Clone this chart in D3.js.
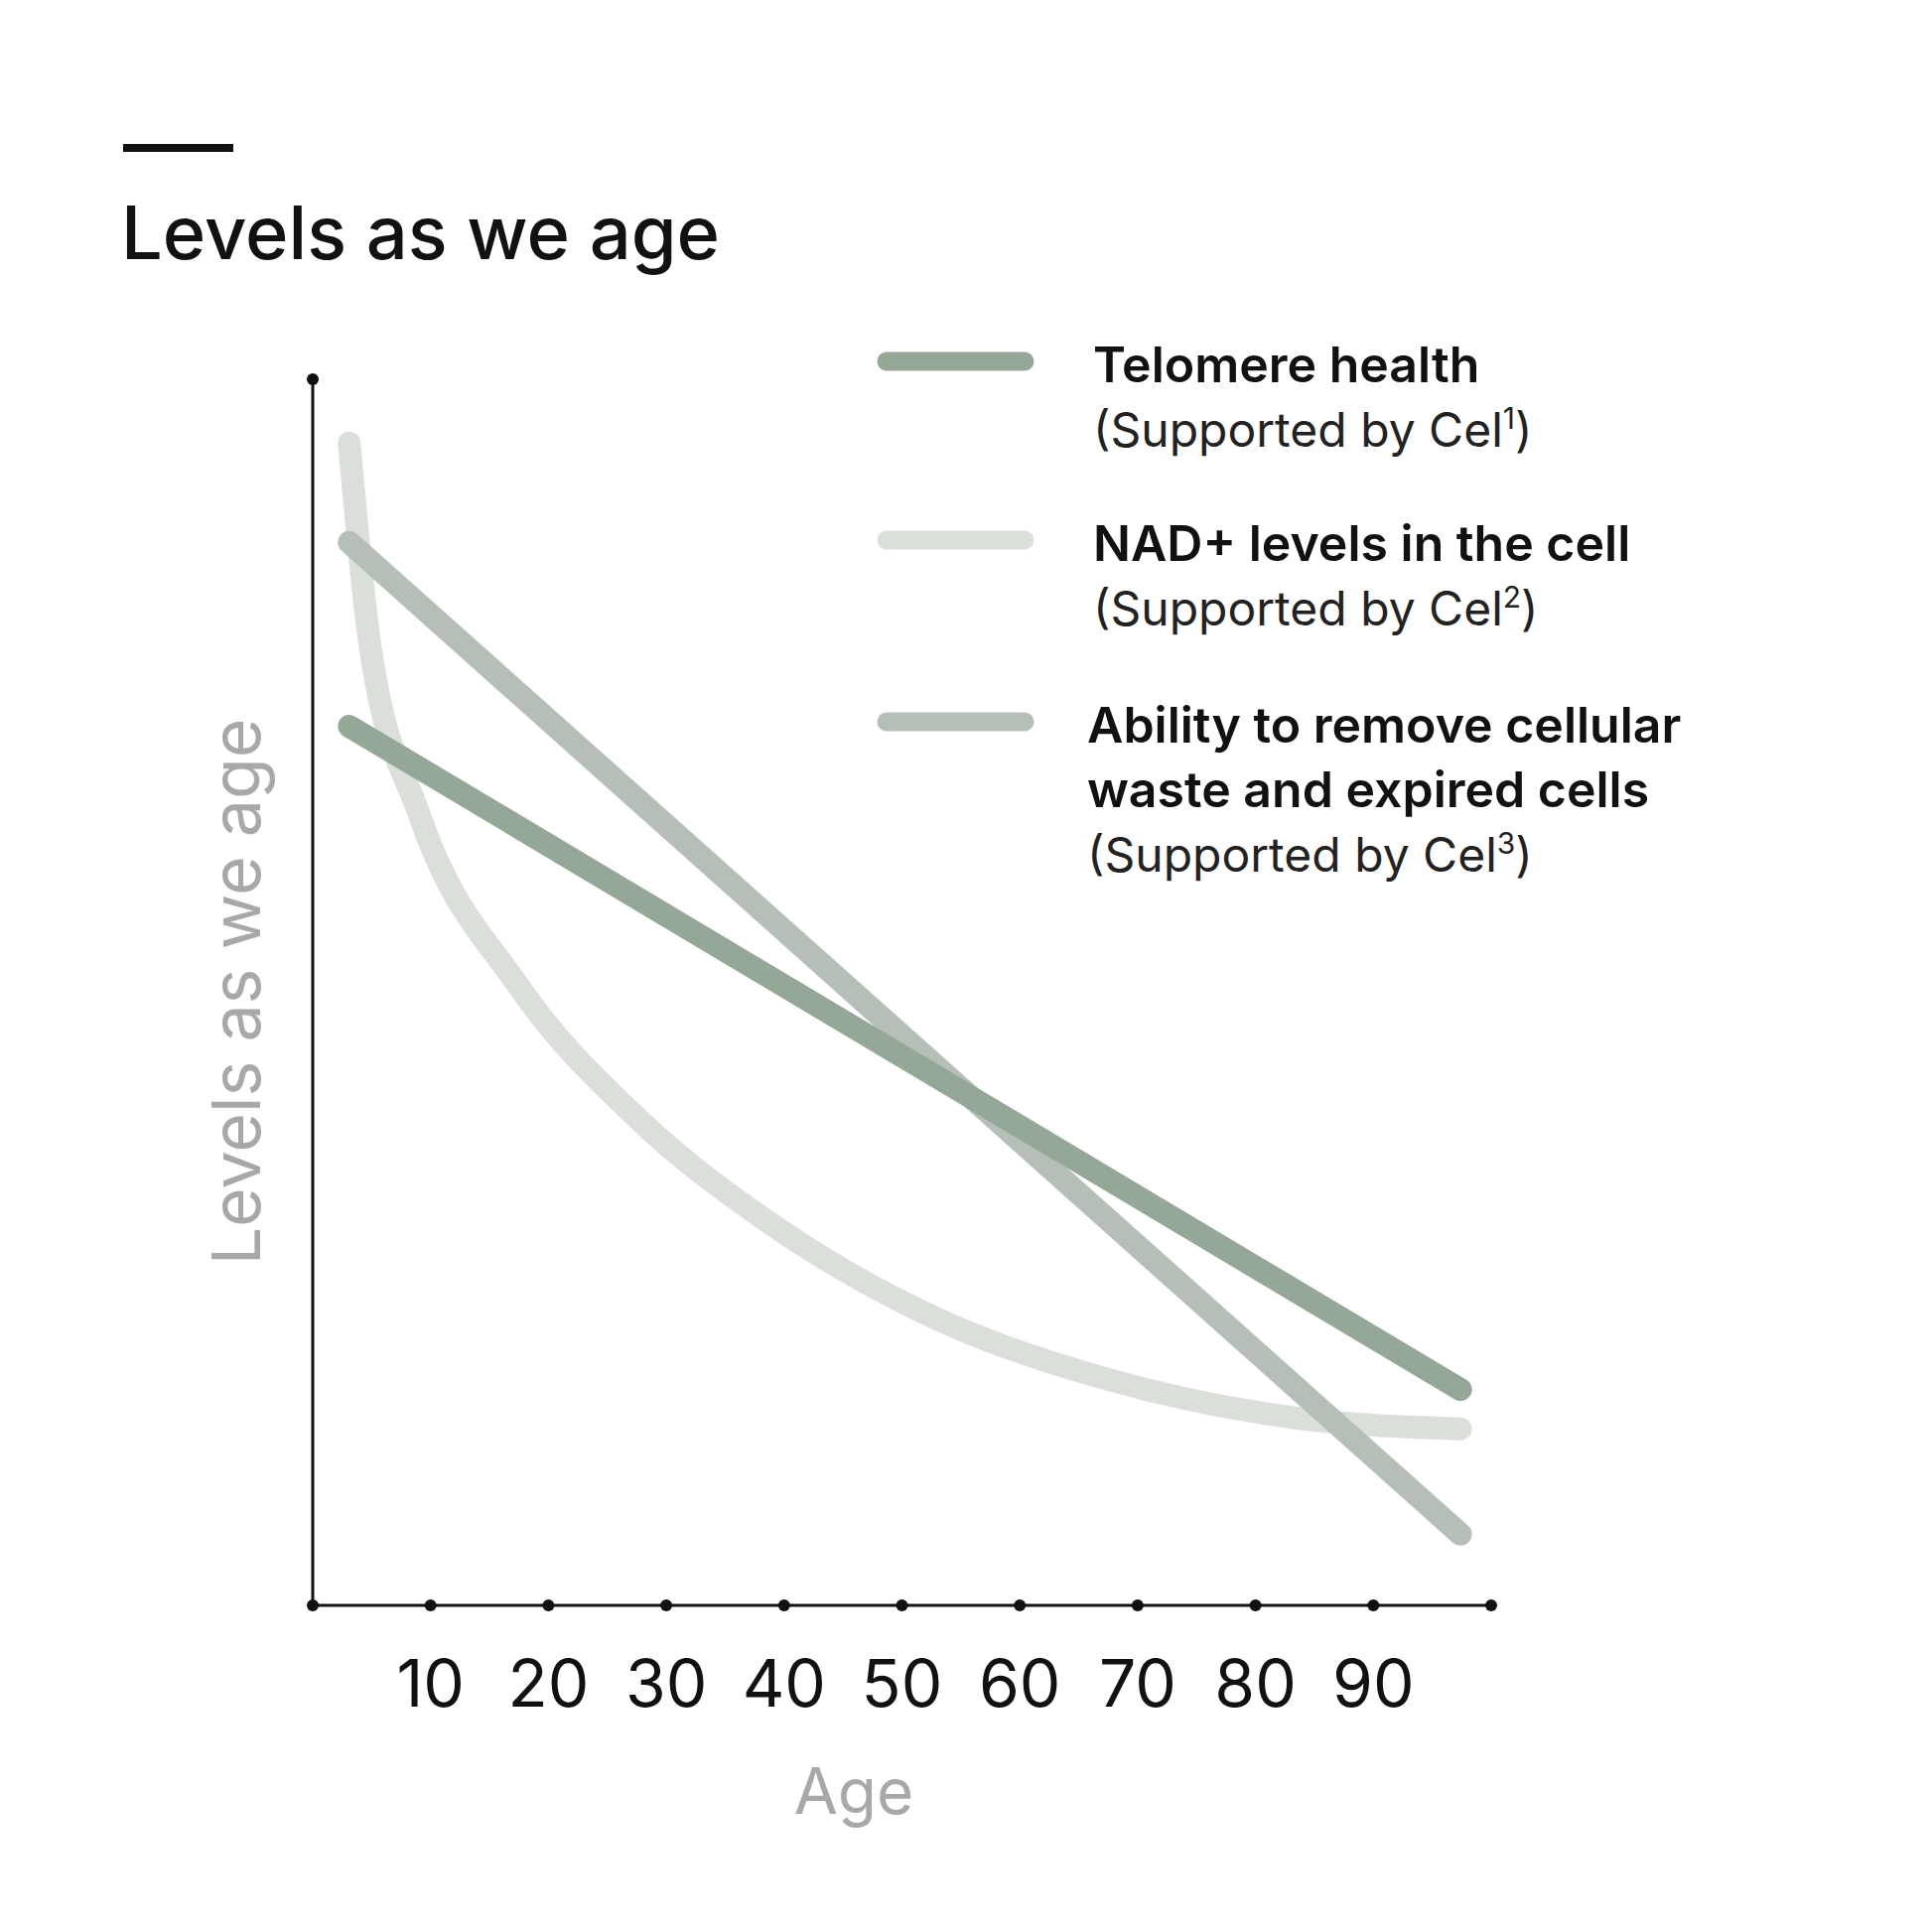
<!DOCTYPE html>
<html><head><meta charset="utf-8">
<script src="https://cdn.jsdelivr.net/npm/d3@7"></script>
<style>body{margin:0;background:#fff}text{font-family:Inter,"Noto Sans",sans-serif}</style>
</head><body><svg></svg>
<script>
var ageTicks = [10,20,30,40,50,60,70,80,90];
var telomere = [[3.1,71.7],[97.4,17.6]];
var ability = [[3.1,86.7],[97.4,5.8]];
var nad = [[3.1,94.8],[4.8,78.7],[9.0,64.6],[17.4,50.6],[27.8,39.5],[38.3,31.5],[52.9,23.4],[67.6,18.4],[83.3,15.3],[97.4,14.4]];
var legendItems = [
  {lines:["Telomere health"], sup:"1", color:"#95a898"},
  {lines:["NAD+ levels in the cell"], sup:"2", color:"#dbdfd9"},
  {lines:["Ability to remove cellular","waste and expired cells"], sup:"3", color:"#b5bfb7"}
];

var svg = d3.select("svg").attr("width",1946).attr("height",1946);
var x = d3.scaleLinear().domain([0,100]).range([315,1502]);
var y = d3.scaleLinear().domain([0,100]).range([1617,382]);

// title
svg.append("rect").attr("x",124).attr("y",145).attr("width",111).attr("height",8).attr("fill","#111");
svg.append("text").attr("x",122).attr("y",261).attr("font-size",74).attr("font-weight",500)
  .attr("fill","#111").text("Levels as we age");

// lines
var line = d3.line().x(function(d){return x(d[0]);}).y(function(d){return y(d[1]);});
[[nad,"#dbdfd9",d3.curveMonotoneX],[ability,"#b5bfb7",d3.curveLinear],[telomere,"#95a898",d3.curveLinear]].forEach(function(s){
  svg.append("path").attr("d",line.curve(s[2])(s[0])).attr("fill","none")
    .attr("stroke",s[1]).attr("stroke-width",23).attr("stroke-linecap","round");
});

// axes
svg.append("line").attr("x1",x(0)).attr("x2",x(100)).attr("y1",y(0)).attr("y2",y(0)).attr("stroke","#111").attr("stroke-width",3);
svg.append("line").attr("x1",x(0)).attr("x2",x(0)).attr("y1",y(0)).attr("y2",y(100)).attr("stroke","#111").attr("stroke-width",3);
svg.selectAll(".dot").data([0].concat(ageTicks,[100])).enter().append("circle")
  .attr("cx",function(d){return x(d);}).attr("cy",y(0)).attr("r",6).attr("fill","#111");
svg.append("circle").attr("cx",x(0)).attr("cy",y(100)).attr("r",6).attr("fill","#111");
svg.selectAll(".tl").data(ageTicks).enter().append("text")
  .attr("x",function(d){return x(d);}).attr("y",1719).attr("text-anchor","middle")
  .attr("font-size",66).attr("fill","#111").text(function(d){return d;});
svg.append("text").attr("x",860).attr("y",1827).attr("text-anchor","middle").attr("font-size",64)
  .attr("fill","#a8a8a8").text("Age");
svg.append("text").attr("transform","translate(262,999) rotate(-90)").attr("text-anchor","middle")
  .attr("font-size",68).attr("fill","#a8a8a8").text("Levels as we age");

// legend
var ly = [364,544,727];
legendItems.forEach(function(it,i){
  svg.append("line").attr("x1",893).attr("x2",1032).attr("y1",ly[i]).attr("y2",ly[i])
    .attr("stroke",it.color).attr("stroke-width",19).attr("stroke-linecap","round");
  var tx = i==2 ? 1095 : 1101;
  var base = ly[i]+21;
  it.lines.forEach(function(l,j){
    svg.append("text").attr("x",tx).attr("y",base+j*65).attr("font-size",50).attr("font-weight",600)
      .attr("fill","#111").text(l);
  });
  var t = svg.append("text").attr("x",tx).attr("y",base+it.lines.length*65).attr("font-size",48)
    .attr("fill","#222").text("(Supported by Cel");
  t.append("tspan").attr("dy",-18).attr("font-size",30).text(it.sup);
  t.append("tspan").attr("dy",18).text(")");
});
</script></body></html>
